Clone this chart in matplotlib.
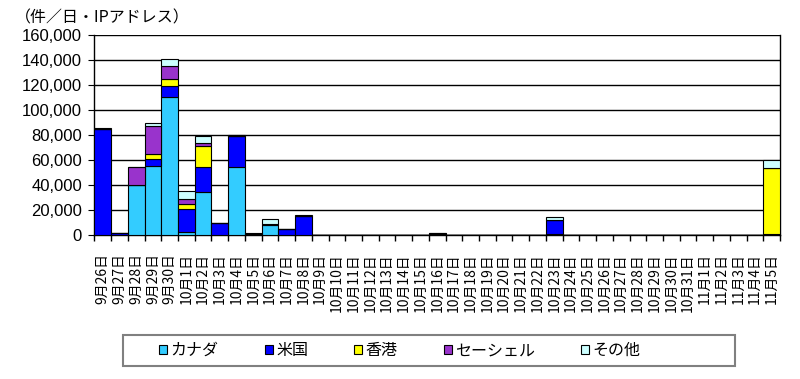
import matplotlib.pyplot as plt
from matplotlib.patches import Rectangle

plt.rcParams['font.family'] = ['Noto Sans CJK JP', 'DejaVu Sans']

# x axis categories (9/26 - 11/5)
dates = ['9月26日', '9月27日', '9月28日', '9月29日', '9月30日',
         '10月1日', '10月2日', '10月3日', '10月4日', '10月5日', '10月6日', '10月7日',
         '10月8日', '10月9日', '10月10日', '10月11日', '10月12日', '10月13日', '10月14日',
         '10月15日', '10月16日', '10月17日', '10月18日', '10月19日', '10月20日', '10月21日',
         '10月22日', '10月23日', '10月24日', '10月25日', '10月26日', '10月27日', '10月28日',
         '10月29日', '10月30日', '10月31日',
         '11月1日', '11月2日', '11月3日', '11月4日', '11月5日']

# stacked series (count / day / IP address)
canada = [0, 0, 40000, 55000, 110000, 2600, 34500, 300, 54000, 0, 7700, 0, 0,
          0, 0, 0, 0, 0, 0, 0, 0, 0, 0, 0, 0, 0, 0, 800, 0, 0, 0, 0, 0, 0, 0, 0,
          0, 0, 0, 0, 500]
usa = [85000, 1500, 300, 6000, 9000, 17800, 19700, 9200, 25500, 1000, 800, 4500, 15000,
       300, 200, 200, 200, 200, 200, 200, 900, 200, 200, 200, 200, 200, 200, 11200,
       200, 200, 200, 200, 200, 200, 200, 200, 200, 200, 200, 200, 0]
hongkong = [0, 0, 0, 3500, 5500, 4200, 17200, 0, 0, 0, 0, 0, 0,
            0, 0, 0, 0, 0, 0, 0, 0, 0, 0, 0, 0, 0, 0, 0, 0, 0, 0, 0, 0, 0, 0, 0,
            0, 0, 0, 0, 53000]
seychelles = [0, 0, 14000, 23000, 11000, 4500, 1900, 0, 0, 0, 0, 0, 0,
              0, 0, 0, 0, 0, 0, 0, 300, 0, 0, 0, 0, 0, 0, 0, 0, 0, 0, 0, 0, 0, 0, 0,
              0, 0, 0, 0, 0]
others = [500, 300, 0, 2000, 5300, 5800, 5800, 300, 300, 300, 3900, 500, 700,
          0, 0, 0, 0, 0, 0, 0, 0, 0, 0, 0, 0, 0, 0, 2600, 0, 0, 0, 0, 0, 0, 0, 0,
          0, 0, 0, 0, 6700]

names = ['カナダ', '米国', '香港', 'セーシェル', 'その他']
colors = ['#33ccff', '#0000ff', '#ffff00', '#9933cc', '#ccffff']

fig = plt.figure(figsize=(8, 3.79), dpi=100)
ax = fig.add_axes([0.118, 0.38, 0.857, 0.528])

x = list(range(len(dates)))
bottom = [0] * len(dates)
handles = []
for vals, name, c in zip([canada, usa, hongkong, seychelles, others], names, colors):
    b = ax.bar(x, vals, width=1.0, bottom=bottom, color=c, edgecolor='black',
               linewidth=0.8, label=name, zorder=3)
    handles.append(b)
    bottom = [p + q for p, q in zip(bottom, vals)]

ax.set_xlim(-0.5, len(dates) - 0.5)
ax.set_ylim(0, 160000)
ax.set_yticks(range(0, 160001, 20000))
ax.set_yticklabels(['{:,}'.format(v) for v in range(0, 160001, 20000)],
                   family='Liberation Sans', fontsize=12)
ax.yaxis.grid(True, color='black', linewidth=1.0, zorder=0)

ax.set_xticks(x)
ax.set_xticklabels(dates, rotation=90, fontsize=10, va='top', ha='center')
ax.set_xticks([i - 0.5 for i in range(len(dates) + 1)], minor=True)
ax.tick_params(axis='x', which='major', length=0, pad=13)
ax.tick_params(axis='x', which='minor', length=4, direction='out', width=1)
ax.tick_params(axis='y', length=4, direction='out', pad=5)
for s in ax.spines.values():
    s.set_linewidth(1.0)
ax.spines['top'].set_visible(False)

fig.text(0.018, 0.952, '（件／日・IPアドレス）', fontsize=11.5, va='center', ha='left')

# legend box
fig.patches.append(Rectangle((0.154, 0.034), 0.765, 0.082, transform=fig.transFigure,
                             fill=False, edgecolor='#808080', linewidth=1.5))
fig.legend(handles=handles, loc='center', bbox_to_anchor=(0.5, 0.075), ncol=5,
           frameon=False, fontsize=11.5, handlelength=0.5, handleheight=0.5,
           handletextpad=0.2, columnspacing=2.9)

plt.savefig('out.png', dpi=100)
